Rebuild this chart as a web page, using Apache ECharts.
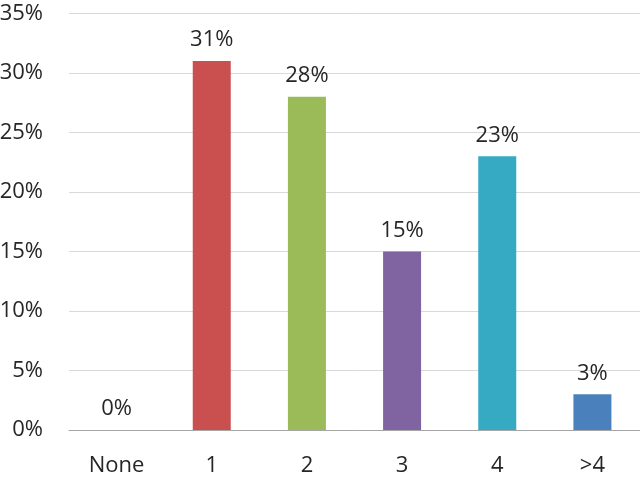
<!DOCTYPE html>
<html>
<head>
<meta charset="utf-8">
<script src="https://cdn.jsdelivr.net/npm/echarts@6/dist/echarts.min.js"></script>
<style>html,body{margin:0;padding:0;background:#fff}#c{width:640px;height:480px}</style>
</head>
<body>
<div id="c"></div>
<script>
const categories = ['None', '1', '2', '3', '4', '>4'];
const values = [0, 31, 28, 15, 23, 3];
const barColors = ['#C9504F', '#C9504F', '#9BBB59', '#8064A2', '#36A9C3', '#4A81BD'];

const chart = echarts.init(document.getElementById('c'));
const font = '"Open Sans", "Noto Sans", sans-serif';
chart.setOption({
  animation: false,
  grid: { left: 69, right: 0, top: 13.5, bottom: 50, containLabel: false, outerBoundsMode: 'none' },
  xAxis: {
    type: 'category',
    data: categories,
    axisLine: { lineStyle: { color: '#A6A6A6', width: 1 } },
    axisTick: { show: false },
    axisLabel: { color: '#262626', fontSize: 22, fontFamily: font, margin: 25 }
  },
  yAxis: {
    type: 'value',
    min: 0, max: 35, interval: 5,
    axisLine: { show: false },
    axisTick: { show: false },
    splitLine: { lineStyle: { color: '#D9D9D9', width: 1 } },
    axisLabel: { color: '#262626', fontSize: 22, fontFamily: font, margin: 26, formatter: '{value}%' }
  },
  series: [{
    type: 'bar',
    barWidth: 38,
    data: values.map((v, i) => ({ value: v, itemStyle: { color: barColors[i] } })),
    label: {
      show: true, position: 'top', distance: 10,
      color: '#262626', fontSize: 22, fontFamily: font,
      formatter: p => p.value + '%'
    }
  }]
});
</script>
</body>
</html>
